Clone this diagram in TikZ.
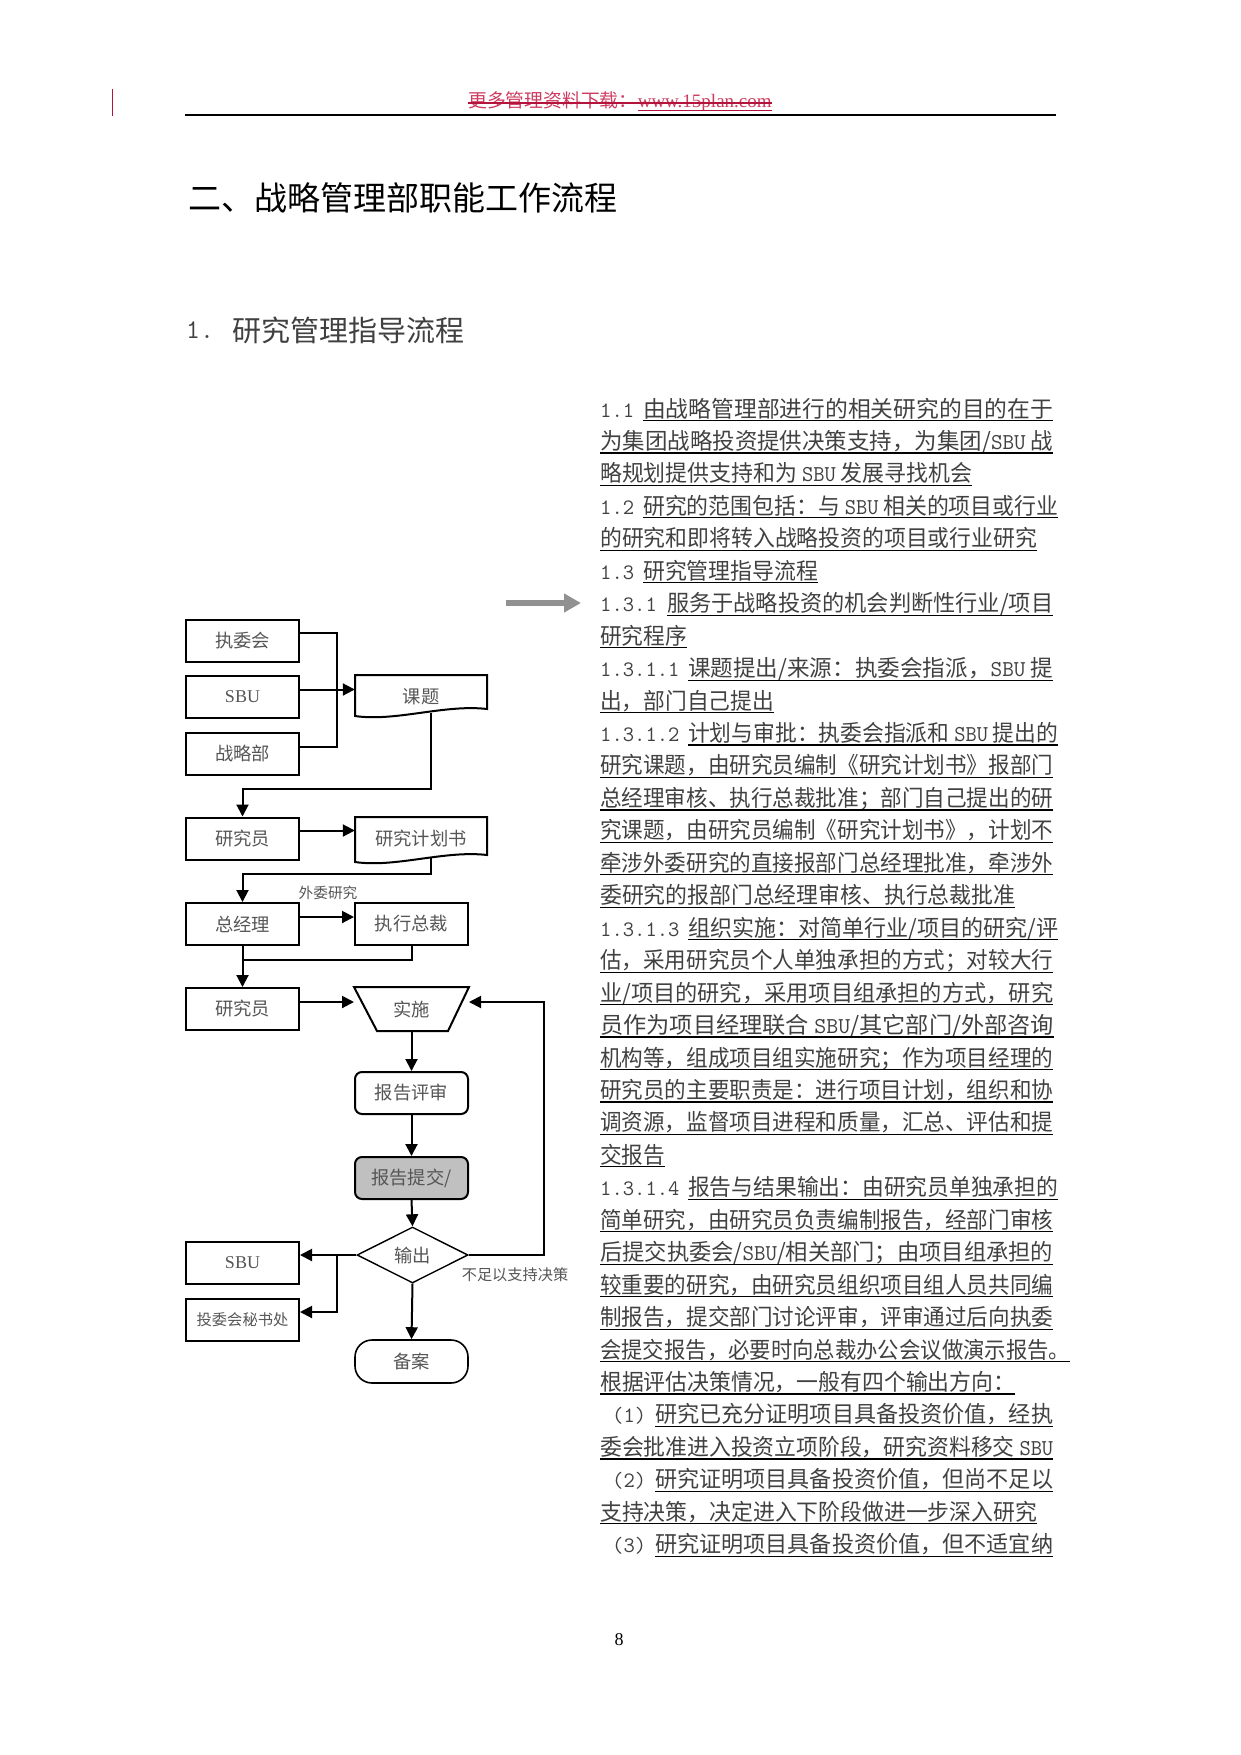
\documentclass[tikz,border=0pt]{standalone}
\usepackage{graphicx}
\usepackage{fontspec}
\setmainfont{Noto Sans CJK SC}
\newfontfamily\serif{Liberation Serif}
\usetikzlibrary{arrows.meta,calc,shapes.geometric}
\definecolor{hdr}{RGB}{205,60,95}
\definecolor{hdrline}{RGB}{180,20,60}
\definecolor{txt}{RGB}{65,65,65}
\definecolor{boxtxt}{RGB}{85,85,85}
\definecolor{subfill}{RGB}{192,192,192}
\definecolor{bigarr}{RGB}{145,145,145}
\newcommand\fitw[2]{\resizebox{#1pt}{\height}{#2}}
\newcommand\msbu{{\ttfamily SBU}}
\begin{document}
\begin{tikzpicture}[x=1pt,y=-1pt,
  box/.style={draw, line width=2pt, minimum width=113pt, minimum height=42pt, inner sep=0pt, text=boxtxt, font=\fontsize{18.3}{20}\selectfont},
  ghost/.style={minimum width=132pt, inner sep=0pt, text=boxtxt, font=\fontsize{18.3}{20}\selectfont},
  rbox/.style={box, rounded corners=7pt},
  term/.style={box, rounded corners=17pt, line width=1.6pt, minimum height=43pt},
  dia/.style={diamond, draw, line width=1.4pt, minimum width=111pt, minimum height=56pt, inner sep=0pt, text=boxtxt, font=\fontsize{18.3}{20}\selectfont},
  conn/.style={line width=2pt},
  arr/.style={conn, -{Triangle[length=12pt,width=12pt]}},
  lbl/.style={inner sep=0pt, text=boxtxt},
  rtxt/.style={anchor=base west, inner sep=0pt, text=txt, font=\fontsize{22.7}{24}\selectfont},
  rnum/.style={anchor=base west, inner sep=0pt, text=txt, font=\ttfamily\fontsize{22}{24}\selectfont},
  uline/.style={line width=1.2pt, black}
]
\useasboundingbox (0,0) rectangle (1241,1755);

% ---------- header ----------
\coordinate (rv1) at (112,89);
\coordinate (rv2) at (112,116);
\draw[hdrline, line width=1pt] (rv1) -- (rv2);
\coordinate (hl1) at (185,115);
\coordinate (hl2) at (1056,115);
\draw[line width=2.2pt] (hl1) -- (hl2);
\node[anchor=base west, inner sep=0pt, text=hdr, font=\fontsize{18.8}{20}\selectfont] (hd1) at (468,108) {更多管理资料下载：};
\node[anchor=base west, inner sep=0pt, text=hdr, font=\serif\fontsize{19}{20}\selectfont] (hd2) at (hd1.base east) {www.15plan.com};
\draw[hdrline, line width=1.3pt] ([yshift=5pt]hd1.base west) -- ([yshift=5pt]hd2.base east);
\draw[hdrline, line width=1pt] ([yshift=-2.5pt]hd2.base west) -- ([yshift=-2.5pt]hd2.base east);

% ---------- titles ----------
\node[anchor=west, inner sep=0pt, font=\fontsize{33}{36}\selectfont] (title) at (188,198) {二、战略管理部职能工作流程};
\node[anchor=west, inner sep=0pt, text=black!75, font=\ttfamily\fontsize{27}{30}\selectfont] (subn) at (186,330) {1.};
\node[anchor=west, inner sep=0pt, text=black!75, font=\fontsize{29}{32}\selectfont] (subt) at (232,330) {研究管理指导流程};

% ---------- flowchart ----------
\node[box] (zwh) at (242.5,640.5) {执委会};
\node[box, font=\serif\fontsize{18}{20}\selectfont] (sbu1) at (242.5,697) {SBU};
\node[box] (zlb) at (242.5,754) {战略部};
\draw[conn] (355,675) -- (487,675) -- (487,709) .. controls (445,704) and (395,722) .. (355,716) -- cycle;
\node[ghost, minimum height=44pt] (keti) at (421,697) {课题};
\node[box] (yjy1) at (242.5,838.5) {研究员};
\draw[conn] (355,817) -- (487,817) -- (487,855) .. controls (445,850) and (395,868) .. (355,862) -- cycle;
\node[ghost, minimum height=43pt] (jhs) at (421,838.5) {研究计划书};
\node[box] (zjl) at (242.5,924) {总经理};
\node[box] (zxzc) at (411.5,924) {执行总裁};
\node[box] (yjy2) at (242.5,1009) {研究员};
\node[box, draw=none] (ss) at (411.5,1009) {实施};
\draw[conn] (ss.north west) -- (ss.north east) -- ([xshift=-21pt]ss.south east) -- ([xshift=23pt]ss.south west) -- cycle;
\node[rbox] (bgps) at (411.5,1093) {报告评审};
\node[rbox, fill=subfill] (bgtj) at (411.5,1178) {报告提交/};
\node[dia] (sc) at (412.5,1255) {输出};
\node[box, font=\serif\fontsize{18}{20}\selectfont] (sbu2) at (242.5,1263) {SBU};
\node[box, font=\fontsize{15.3}{17}\selectfont] (twh) at (242.5,1319.5) {投委会秘书处};
\node[term] (ba) at (411.5,1361.5) {备案};

\node[lbl, font=\fontsize{14.7}{16}\selectfont] (wwyj) at (328,893) {外委研究};
\node[lbl, font=\fontsize{15.2}{17}\selectfont] (bzy) at (515,1275) {不足以支持决策};

% connectors
\coordinate (jx) at (337,689.5);
\draw[conn] ([yshift=7.5pt]zwh.east) -| (jx);
\draw[conn] ([yshift=7.5pt]zlb.east) -| (jx);
\draw[arr] ([yshift=7.5pt]sbu1.east) -- ([yshift=7.5pt]keti.west);
\coordinate (kout) at (431,713);
\draw[arr] (kout) -- ++(0,76) -| (yjy1.north);
\draw[arr] ([yshift=8pt]yjy1.east) -- ([yshift=8pt]jhs.west);
\coordinate (jout) at (431,858);
\draw[arr] (jout) -- ++(0,16) -| (zjl.north);
\draw[arr] ([yshift=7pt]zjl.east) -- ([yshift=7pt]zxzc.west);
\draw[conn] (zxzc.south) -- ++(0,14) -| (zjl.south);
\draw[arr] (zjl.south) -- (yjy2.north);
\draw[arr] ([yshift=7pt]yjy2.east) -- ([yshift=7pt]ss.west);
\draw[arr] (ss.south) -- (bgps.north);
\draw[arr] (bgps.south) -- (bgtj.north);
\draw[arr] (bgtj.south) -- (sc.north);
\draw[arr] (sc.south) -- (ba.north);
\draw[arr] (sc.east) -- ++(75,0) |- ([yshift=7pt]ss.east);
\draw[arr] (sc.west) -- (sc.west -| sbu2.east);
\coordinate (br) at (337,1255);
\draw[arr] (br) |- ([yshift=7.5pt]twh.east);

% big gray arrow
\coordinate (ga1) at (506,603);
\coordinate (ga2) at (581,603);
\draw[bigarr, line width=6pt, -{Triangle[length=17pt,width=18pt]}] (ga1) -- (ga2);

% ---------- right text ----------
\node[rnum] (p1) at (600,417) {1.1};
\node[rtxt] (l1) at (643,417) {\fitw{410}{由战略管理部进行的相关研究的目的在于}};
\node[rtxt] (l2) at (600,449.45) {\fitw{453}{为集团战略投资提供决策支持，为集团/\msbu{} 战}};
\node[rtxt] (l3) at (600,481.9) {\fitw{372}{略规划提供支持和为 \msbu{} 发展寻找机会}};
\node[rnum] (p4) at (600,514.35) {1.2};
\node[rtxt] (l4) at (643,514.35) {\fitw{415}{研究的范围包括：与 \msbu{} 相关的项目或行业}};
\node[rtxt] (l5) at (600,546.8) {\fitw{437}{的研究和即将转入战略投资的项目或行业研究}};
\node[rnum] (p6) at (600,579.25) {1.3};
\node[rtxt] (l6) at (643,579.25) {\fitw{175}{研究管理指导流程}};
\node[rnum] (p7) at (600,611.7) {1.3.1};
\node[rtxt] (l7) at (667,611.7) {\fitw{386}{服务于战略投资的机会判断性行业/项目}};
\node[rtxt] (l8) at (600,644.15) {\fitw{87}{研究程序}};
\node[rnum] (p9) at (600,676.6) {1.3.1.1};
\node[rtxt] (l9) at (688,676.6) {\fitw{365}{课题提出/来源：执委会指派，\msbu{} 提}};
\node[rtxt] (l10) at (600,709.05) {\fitw{174}{出，部门自己提出}};
\node[rnum] (p11) at (600,741.5) {1.3.1.2};
\node[rtxt] (l11) at (688,741.5) {\fitw{370}{计划与审批：执委会指派和 \msbu{} 提出的}};
\node[rtxt] (l12) at (600,773.95) {\fitw{453}{研究课题，由研究员编制《研究计划书》报部门}};
\node[rtxt] (l13) at (600,806.4) {\fitw{453}{总经理审核、执行总裁批准；部门自己提出的研}};
\node[rtxt] (l14) at (600,838.85) {\fitw{453}{究课题，由研究员编制《研究计划书》，计划不}};
\node[rtxt] (l15) at (600,871.3) {\fitw{453}{牵涉外委研究的直接报部门总经理批准，牵涉外}};
\node[rtxt] (l16) at (600,903.75) {\fitw{415}{委研究的报部门总经理审核、执行总裁批准}};
\node[rnum] (p17) at (600,936.2) {1.3.1.3};
\node[rtxt] (l17) at (688,936.2) {\fitw{370}{组织实施：对简单行业/项目的研究/评}};
\node[rtxt] (l18) at (600,968.65) {\fitw{453}{估，采用研究员个人单独承担的方式；对较大行}};
\node[rtxt] (l19) at (600,1001.1) {\fitw{453}{业/项目的研究，采用项目组承担的方式，研究}};
\node[rtxt] (l20) at (600,1033.55) {\fitw{454}{员作为项目经理联合 \msbu/其它部门/外部咨询}};
\node[rtxt] (l21) at (600,1066) {\fitw{453}{机构等，组成项目组实施研究；作为项目经理的}};
\node[rtxt] (l22) at (600,1098.45) {\fitw{453}{研究员的主要职责是：进行项目计划，组织和协}};
\node[rtxt] (l23) at (600,1130.9) {\fitw{453}{调资源，监督项目进程和质量，汇总、评估和提}};
\node[rtxt] (l24) at (600,1163.35) {\fitw{65}{交报告}};
\node[rnum] (p25) at (600,1195.8) {1.3.1.4};
\node[rtxt] (l25) at (688,1195.8) {\fitw{370}{报告与结果输出：由研究员单独承担的}};
\node[rtxt] (l26) at (600,1228.25) {\fitw{453}{简单研究，由研究员负责编制报告，经部门审核}};
\node[rtxt] (l27) at (600,1260.7) {\fitw{453}{后提交执委会/\msbu/相关部门；由项目组承担的}};
\node[rtxt] (l28) at (600,1293.15) {\fitw{453}{较重要的研究，由研究员组织项目组人员共同编}};
\node[rtxt] (l29) at (600,1325.6) {\fitw{453}{制报告，提交部门讨论评审，评审通过后向执委}};
\node[rtxt] (l30) at (600,1358.05) {\fitw{470}{会提交报告，必要时向总裁办公会议做演示报告。}};
\node[rtxt] (l31) at (600,1390.5) {\fitw{415}{根据评估决策情况，一般有四个输出方向：}};
\node[rnum] (p32) at (612,1422.95) {(1)};
\node[rtxt] (l32) at (655,1422.95) {\fitw{398}{研究已充分证明项目具备投资价值，经执}};
\node[rtxt] (l33) at (600,1455.4) {\fitw{453}{委会批准进入投资立项阶段，研究资料移交 \msbu}};
\node[rnum] (p34) at (612,1487.85) {(2)};
\node[rtxt] (l34) at (655,1487.85) {\fitw{398}{研究证明项目具备投资价值，但尚不足以}};
\node[rtxt] (l35) at (600,1520.3) {\fitw{437}{支持决策，决定进入下阶段做进一步深入研究}};
\node[rnum] (p36) at (612,1552.75) {(3)};
\node[rtxt] (l36) at (655,1552.75) {\fitw{398}{研究证明项目具备投资价值，但不适宜纳}};
\foreach \i in {1,...,36} {
  \draw[uline] ([yshift=-3.5pt]l\i.base west) -- ([yshift=-3.5pt]l\i.base east);
}

% page number
\node[inner sep=0pt, font=\serif\fontsize{18}{20}\selectfont] (pg) at (619,1640) {8};
\end{tikzpicture}
\end{document}
